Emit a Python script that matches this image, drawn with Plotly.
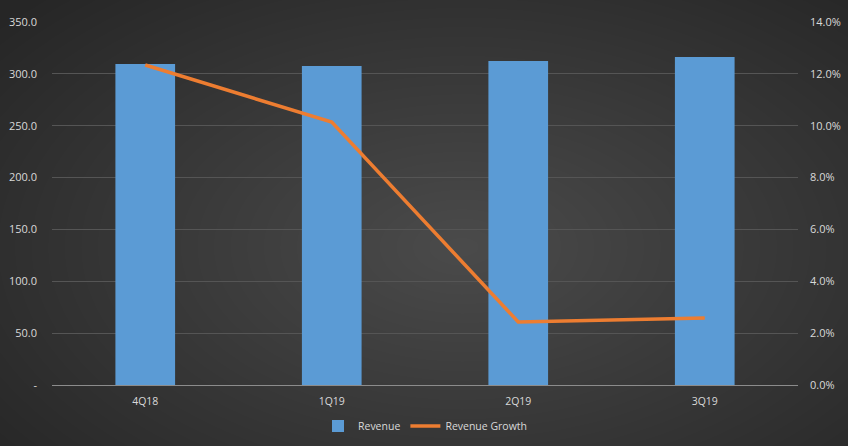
import plotly.graph_objects as go

# data
quarters = ["4Q18", "1Q19", "2Q19", "3Q19"]
revenue = [309.5, 307.6, 312.4, 316.3]
revenue_growth = [0.1234, 0.1014, 0.0243, 0.0258]

rev_ticks = [0, 50, 100, 150, 200, 250, 300, 350]
rev_ticktext = ["-"] + [f"{v:.1f}" for v in rev_ticks[1:]]
growth_ticks = [0, 0.02, 0.04, 0.06, 0.08, 0.10, 0.12, 0.14]

TXT = "#d9d9d9"

fig = go.Figure()
fig.add_trace(go.Bar(
    x=quarters, y=revenue, name="Revenue",
    marker=dict(color="#5b9bd5", line=dict(width=0)),
    width=0.32, yaxis="y",
))
fig.add_trace(go.Scatter(
    x=quarters, y=revenue_growth, name="Revenue Growth",
    mode="lines", line=dict(color="#ed7d31", width=3.5),
    yaxis="y2",
))

# fake radial gradient on the dark background (many faint rings, no banding)
shapes = []
steps = 36
for i in range(steps):
    k = 1 - i / steps
    shapes.append(dict(
        type="circle", xref="paper", yref="paper", layer="below",
        x0=0.55 - 0.8 * k, x1=0.55 + 0.8 * k,
        y0=0.38 - 0.95 * k, y1=0.38 + 0.95 * k,
        fillcolor="rgba(255,255,255,0.0062)", line=dict(width=0),
    ))

fig.update_layout(
    width=848, height=446,
    margin=dict(l=52, r=50, t=22, b=61, autoexpand=False),
    paper_bgcolor="#262626",
    plot_bgcolor="rgba(0,0,0,0)",
    font=dict(family="Open Sans, Noto Sans, sans-serif", size=11, color=TXT),
    shapes=shapes,
    showlegend=True,
    legend=dict(orientation="h", x=0.5, xanchor="center", y=-0.113, yanchor="middle",
                font=dict(size=10.5, color=TXT), bgcolor="rgba(0,0,0,0)"),
    xaxis=dict(
        showgrid=False, showline=True, linecolor="#8c8c8c", linewidth=1,
        ticks="", tickfont=dict(color=TXT, size=10.5), ticklabelstandoff=6,
    ),
    yaxis=dict(
        range=[0, 350], tickvals=rev_ticks, ticktext=rev_ticktext,
        showgrid=True, gridcolor="#555555", gridwidth=1, zeroline=False,
        showline=False, ticks="", ticklabelstandoff=14,
    ),
    yaxis2=dict(
        range=[0, 0.14], tickvals=growth_ticks, tickformat=".1%",
        overlaying="y", side="right", showgrid=False, zeroline=False,
        showline=False, ticks="", ticklabelstandoff=11,
    ),
)

fig.write_html(
    "out.html",
    config={"displayModeBar": False},
    post_script="document.body.style.margin='0';document.body.style.overflow='hidden';",
)
